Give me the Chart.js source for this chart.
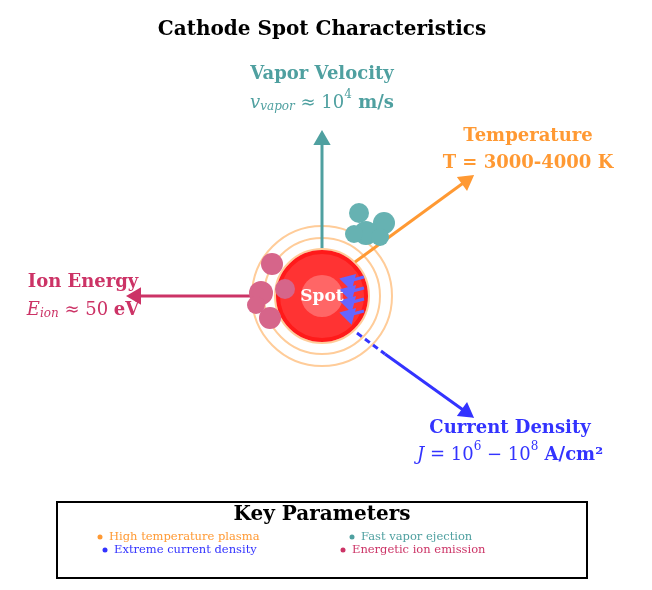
<!DOCTYPE html>
<html><head><meta charset="utf-8">
<script src="https://cdn.jsdelivr.net/npm/chart.js"></script>
<style>body{margin:0;background:#fff}canvas{display:block}</style>
</head><body>
<canvas id="c" width="652" height="590"></canvas>
<script>
// Diagram coordinates (x, y in picture units, y downward)
const spotCenter = [{x:322,y:296}];
const rings = [47,58,70];
const vaporArrow = [{x:322,y:248},{x:322,y:140}];
const tempArrow = [{x:355,y:262},{x:466,y:181}];
const ionArrow = [{x:250,y:296},{x:136,y:296}];
const currentDashed = [{x:357,y:333},{x:385,y:354}];
const currentArrow = [{x:385,y:354},{x:466,y:412}];
const vaporBlob = [{x:359,y:213,r:10},{x:384,y:223,r:11},{x:366,y:233,r:12},{x:354,y:234,r:9},{x:380,y:237,r:9}];
const ionBlob = [{x:272,y:264,r:11},{x:261,y:293,r:12},{x:285,y:289,r:10},{x:270,y:318,r:11},{x:256,y:305,r:9}];
const emitArrowsY = [280,291,302,314];
const legendItems = [
 {x:100,y:537,t:'High temperature plasma',c:'#ff9933'},
 {x:352,y:537,t:'Fast vapor ejection',c:'#4fa0a0'},
 {x:105,y:550,t:'Extreme current density',c:'#3333ff'},
 {x:343,y:550,t:'Energetic ion emission',c:'#cc3366'}];

const ds = [];
rings.forEach(r=>ds.push({type:'bubble',data:[{x:322,y:296,r:r}],backgroundColor:'rgba(0,0,0,0)',borderColor:'#ffcc99',borderWidth:2}));
function arrow(pts,color,rot,dash){
  ds.push({type:'scatter',data:pts,showLine:true,borderColor:color,borderWidth:3,borderDash:dash||[],
   pointRadius:pts.map((p,i)=>rot!==null&&i===pts.length-1?7:0),pointStyle:'triangle',rotation:rot||0,
   backgroundColor:color,pointBorderColor:color});
}
arrow(vaporArrow,'#4fa0a0',0);
arrow(tempArrow,'#ff9933',54);
arrow(ionArrow,'#cc3366',270);
arrow(currentDashed,'#3333ff',null,[6,4]);
arrow(currentArrow,'#3333ff',126);
ds.push({type:'bubble',data:spotCenter.map(p=>({x:p.x,y:p.y,r:44})),backgroundColor:'#ff3333',borderColor:'#ff1a1a',borderWidth:4});
ds.push({type:'bubble',data:spotCenter.map(p=>({x:p.x,y:p.y,r:21})),backgroundColor:'#ff6666',borderWidth:0});
ds.push({type:'bubble',data:vaporBlob,backgroundColor:'#66b2b2',borderWidth:0});
ds.push({type:'bubble',data:ionBlob,backgroundColor:'#d6658a',borderWidth:0});
emitArrowsY.forEach(y=>arrow([{x:364,y:y-3},{x:349,y:y+1}],'#6666ff',285));
ds.forEach((d,i)=>{d.order=ds.length-i;});

function rich(ctx,x,y,segs,color){
  let w=0; segs.forEach(s=>{ctx.font=s.f;w+=ctx.measureText(s.t).width;});
  let cx=x-w/2; ctx.fillStyle=color; ctx.textAlign='left'; ctx.textBaseline='middle';
  segs.forEach(s=>{ctx.font=s.f;ctx.fillText(s.t,cx,y+(s.dy||0));cx+=ctx.measureText(s.t).width;});
}
const B='bold 18px "DejaVu Serif"', I='italic 18px "DejaVu Serif"', S='italic 12px "DejaVu Serif"', R='18px "DejaVu Serif"', SS='12px "DejaVu Serif"';
const textPlugin={id:'texts',afterDatasetsDraw(ch){
  const ctx=ch.ctx, X=ch.scales.x, Y=ch.scales.y, px=v=>X.getPixelForValue(v), py=v=>Y.getPixelForValue(v);
  ctx.save();
  rich(ctx,px(322),py(30),[{t:'Cathode Spot Characteristics',f:'bold 20px "DejaVu Serif"'}],'#000');
  rich(ctx,px(322),py(297),[{t:'Spot',f:'bold 17px "DejaVu Serif"'}],'#fff');
  rich(ctx,px(322),py(74),[{t:'Vapor Velocity',f:B}],'#4fa0a0');
  rich(ctx,px(322),py(103),[{t:'v',f:I},{t:'vapor',f:S,dy:4},{t:' ≈ 10',f:R},{t:'4',f:SS,dy:-8},{t:' m/s',f:B}],'#4fa0a0');
  rich(ctx,px(528),py(136),[{t:'Temperature',f:B}],'#ff9933');
  rich(ctx,px(528),py(163),[{t:'T = 3000-4000 K',f:B}],'#ff9933');
  rich(ctx,px(83),py(282),[{t:'Ion Energy',f:B}],'#cc3366');
  rich(ctx,px(83),py(310),[{t:'E',f:I},{t:'ion',f:S,dy:4},{t:' ≈ 50 ',f:R},{t:'eV',f:B}],'#cc3366');
  rich(ctx,px(510),py(428),[{t:'Current Density',f:B}],'#3333ff');
  rich(ctx,px(510),py(455),[{t:'J',f:I},{t:' = 10',f:R},{t:'6',f:SS,dy:-8},{t:' − 10',f:R},{t:'8',f:SS,dy:-8},{t:' A/cm²',f:B}],'#3333ff');
  ctx.strokeStyle='#000';ctx.lineWidth=2;ctx.strokeRect(px(57),py(502),px(587)-px(57),py(578)-py(502));
  rich(ctx,px(322),py(515),[{t:'Key Parameters',f:'bold 20px "DejaVu Serif"'}],'#000');
  legendItems.forEach(it=>{
    ctx.fillStyle=it.c;ctx.beginPath();ctx.arc(px(it.x),py(it.y),2.5,0,Math.PI*2);ctx.fill();
    ctx.font='11.5px "DejaVu Serif"';ctx.textAlign='left';ctx.textBaseline='middle';ctx.fillText(it.t,px(it.x)+9,py(it.y));
  });
  ctx.restore();
}};
new Chart(document.getElementById('c'),{
  data:{datasets:ds},
  options:{responsive:false,animation:false,layout:{padding:0,autoPadding:false},
    plugins:{legend:{display:false},tooltip:{enabled:false}},
    scales:{x:{type:'linear',min:0,max:652,display:false},y:{type:'linear',min:0,max:590,reverse:true,display:false}}},
  plugins:[textPlugin]
});
</script>
</body></html>
